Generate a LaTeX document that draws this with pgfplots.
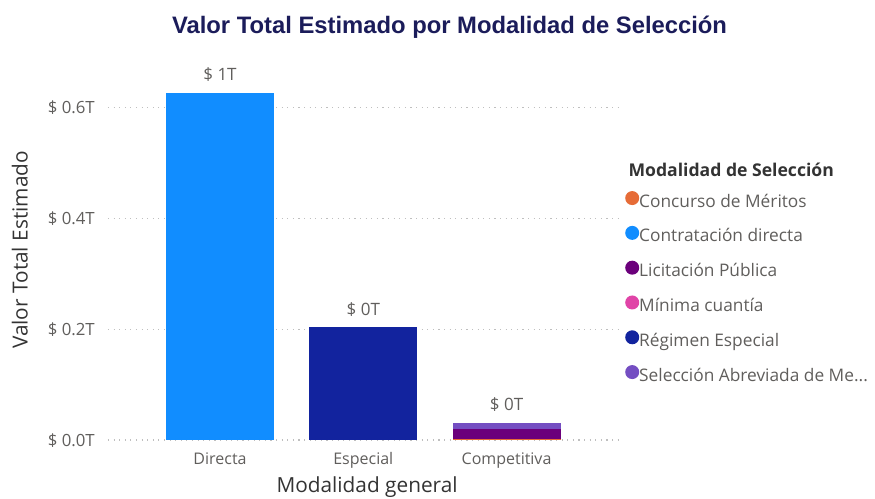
\documentclass[border=0pt]{standalone}
\usepackage{pgfplots}
\pgfplotsset{compat=1.18}
\usepackage{fontspec}
\setmainfont{Open Sans}
\newfontfamily\titlefont{Liberation Sans}
\definecolor{cConc}{HTML}{E66C37}
\definecolor{cDir}{HTML}{118DFF}
\definecolor{cLic}{HTML}{6B007B}
\definecolor{cMin}{HTML}{E044A7}
\definecolor{cReg}{HTML}{12239E}
\definecolor{cSel}{HTML}{744EC2}
\definecolor{tgray}{HTML}{605E5C}
\definecolor{ttitle}{HTML}{1B1C5A}
\definecolor{tlab}{HTML}{333333}
\definecolor{grid}{HTML}{C8C6C4}
\begin{document}
\begin{tikzpicture}[x=1pt,y=1pt]
\useasboundingbox (-108,-58) rectangle (767,440);
\begin{axis}[
  at={(0,0)}, anchor=south west,
  scale only axis, width=512pt, height=360pt,
  ybar stacked, bar width=108pt,
  xmin=-0.782, xmax=2.792, ymin=0, ymax=0.65,
  clip=false,
  axis line style={draw=none},
  xtick={0,1,2}, xticklabels={Directa,Especial,Competitiva},
  ytick={0,0.2,0.4,0.6},
  yticklabels={\$ 0.0T,\$ 0.2T,\$ 0.4T,\$ 0.6T},
  major tick length=0pt,
  xmajorgrids=false, ymajorgrids=true,
  major grid style={grid, line width=1.1pt, dash pattern=on 1.1pt off 4.5pt},
  xticklabel style={anchor=base, yshift=-24pt, inner sep=0pt, font=\fontsize{16}{18}\selectfont, text=tgray},
  yticklabel style={anchor=base east, xshift=-13pt, yshift=-6pt, inner sep=0pt, font=\fontsize{16.8}{19}\selectfont, text=tgray},
  xlabel={Modalidad general},
  xlabel style={at={(rel axis cs:0.506,-0.1306)}, anchor=center, font=\fontsize{20.8}{24}\selectfont, text=tlab},
  ylabel={Valor Total Estimado},
  ylabel style={at={(rel axis cs:-0.172,0.528)}, anchor=center, font=\fontsize{20.8}{24}\selectfont, text=tlab},
  title={Valor Total Estimado por Modalidad de Selección},
  title style={at={(rel axis cs:0.667,1.131)}, anchor=center, font=\titlefont\fontsize{23.8}{27}\selectfont\bfseries, text=ttitle},
  legend cell align=left,
  legend style={at={(rel axis cs:1.0098,0.692)}, anchor=north west, draw=none, fill=none,
    inner sep=0pt, row sep=14.8pt, font=\fontsize{17.3}{19}\selectfont, text=tgray,
    nodes={text height=11pt, text depth=4pt, inner sep=0pt},
    /tikz/every even column/.append style={column sep=0pt}},
  legend image code/.code={\fill (8pt,5.5pt) circle (7pt);},
]
\addplot[fill=cConc, draw=none] coordinates {(0,0) (1,0) (2,0.001)};
\addlegendentry{Concurso de Méritos}
\addplot[fill=cDir, draw=none] coordinates {(0,0.627) (1,0) (2,0)};
\addlegendentry{Contratación directa}
\addplot[fill=cLic, draw=none] coordinates {(0,0) (1,0) (2,0.019)};
\addlegendentry{Licitación Pública}
\addplot[fill=cMin, draw=none] coordinates {(0,0) (1,0) (2,0.0005)};
\addlegendentry{Mínima cuantía}
\addplot[fill=cReg, draw=none] coordinates {(0,0) (1,0.204) (2,0)};
\addlegendentry{Régimen Especial}
\addplot[fill=cSel, draw=none] coordinates {(0,0) (1,0) (2,0.011)};
\addlegendentry{Selección Abreviada de Me...}
\node[font=\fontsize{17}{19}\selectfont, text=tgray, anchor=base] at (axis cs:0,0.627) [yshift=12pt] {\$ 1T};
\node[font=\fontsize{17}{19}\selectfont, text=tgray, anchor=base] at (axis cs:1,0.204) [yshift=12pt] {\$ 0T};
\node[font=\fontsize{17}{19}\selectfont, text=tgray, anchor=base] at (axis cs:2,0.0315) [yshift=12pt] {\$ 0T};
\end{axis}
\node[anchor=base west, font=\fontsize{17.6}{20}\selectfont\bfseries, text=tlab] at (517,263) {Modalidad de Selección};
\end{tikzpicture}
\end{document}
